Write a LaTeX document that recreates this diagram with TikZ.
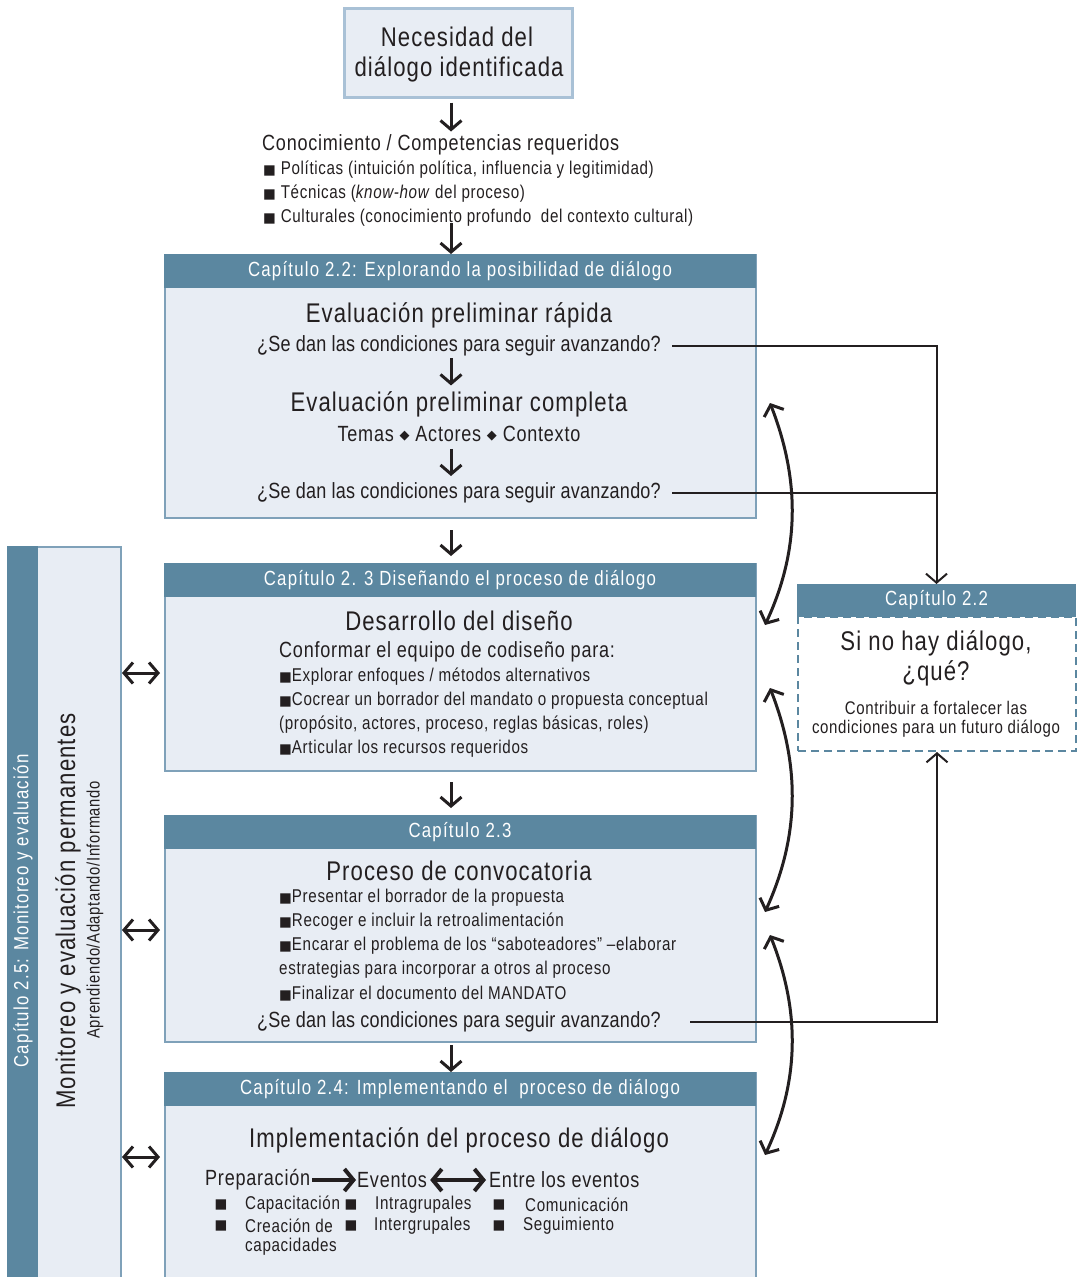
\documentclass[tikz,border=0pt]{standalone}
\usepackage{fontspec}
\setmainfont[FakeStretch=0.82, LetterSpace=3.5]{Liberation Sans}
\newfontfamily\fA[FakeStretch=0.82, LetterSpace=1]{Liberation Sans}
\newfontfamily\fC[FakeStretch=0.82, LetterSpace=4]{Liberation Sans}
\newfontfamily\fH[FakeStretch=0.82, LetterSpace=6]{Liberation Sans}
\newfontfamily\symf{DejaVu Sans}
\usetikzlibrary{arrows.meta}
\definecolor{hdr}{HTML}{5B87A0}
\definecolor{pale}{HTML}{E8EDF4}
\definecolor{edge}{HTML}{7FA1B9}
\definecolor{topedge}{HTML}{A9C1D6}
\definecolor{ink}{HTML}{231F20}
\newcommand{\fsz}[1]{\fontsize{#1}{#1}\selectfont}
\newcommand{\blt}{{\symf\fontsize{13.5}{13.5}\selectfont ■}}
\newcommand{\dia}{{\symf\fontsize{13}{13}\selectfont\raisebox{2pt}{◆}}}
\tikzset{
  every node/.style={text=ink, inner sep=0pt},
  body/.style={draw=edge, line width=2pt, fill=pale, anchor=north west},
  head/.style={fill=hdr, draw=hdr, line width=1pt, text=white, anchor=north west, font=\fH\fsz{20.5}},
  big/.style={font=\fC\fsz{27}},
  mid/.style={font=\fsz{22}},
  ask/.style={font=\fA\fsz{22}},
  sml/.style={font=\fsz{18.5}},
  arr/.style={draw=ink, line width=3pt, -{Straight Barb[length=9pt,width=21pt]}},
  darr/.style={draw=ink, line width=3pt, {Straight Barb[length=9pt,width=21pt]}-{Straight Barb[length=9pt,width=21pt]}},
  conn/.style={draw=ink, line width=2pt},
  tipc/.style={draw=ink, line width=2pt, -{Straight Barb[length=9pt,width=21pt]}},
  bend2/.style={draw=ink, line width=3pt, {Straight Barb[length=9pt,width=21pt]}-{Straight Barb[length=9pt,width=21pt]}}
}
\begin{document}
\begin{tikzpicture}[x=1pt, y=-1pt]
\useasboundingbox (0,0) rectangle (1086,1277);

% ---- starting box
\node[draw=topedge, line width=2.5pt, fill=pale, anchor=north west,
      minimum width=228pt, minimum height=89pt] (need) at (343,7) {};
\node[big] (need1) at (457,37) {Necesidad del};
\node[big] (need2) at (459,69) {diálogo identificada};

% ---- required knowledge
\node[mid, anchor=west] (know) at (262,145) {Conocimiento / Competencias requeridos};
\node[sml, anchor=west] (k1) at (263,170) {\blt\ Políticas (intuición política, influencia y legitimidad)};
\node[sml, anchor=west] (k2) at (263,194) {\blt\ Técnicas (\textit{know-how} del proceso)};
\node[sml, anchor=west] (k3) at (263,218) {\blt\ Culturales (conocimiento profundo\ \ del contexto cultural)};

% ---- chapter 2.2 box
\node[body, minimum width=591pt, minimum height=263pt] (b1) at (164,254) {};
\node[head, minimum width=591pt, minimum height=33pt] (h1) at (164,254) {Capítulo 2.2: Explorando la posibilidad de diálogo};
\node[big] (e1) at (459,315) {Evaluación preliminar rápida};
\node[ask] (q1) at (459,346) {¿Se dan las condiciones para seguir avanzando?};
\node[big] (e2) at (459,404) {Evaluación preliminar completa};
\node[mid] (tac) at (459,434) {Temas \dia\ Actores \dia\ Contexto};
\node[ask] (q2) at (459,493) {¿Se dan las condiciones para seguir avanzando?};

% ---- chapter 2.3 design box
\node[body, minimum width=591pt, minimum height=207pt] (b2) at (164,563) {};
\node[head, minimum width=591pt, minimum height=33pt] (h2) at (164,563) {Capítulo 2. 3 Diseñando el proceso de diálogo};
\node[big] (d1) at (459,621) {Desarrollo del diseño};
\node[mid, anchor=west] (d2) at (279,652) {Conformar el equipo de codiseño para:};
\node[sml, anchor=west] (d3) at (279,677) {\blt Explorar enfoques / métodos alternativos};
\node[sml, anchor=west] (d4) at (279,701) {\blt Cocrear un borrador del mandato o propuesta conceptual};
\node[sml, anchor=west] (d5) at (279,725) {(propósito, actores, proceso, reglas básicas, roles)};
\node[sml, anchor=west] (d6) at (279,749) {\blt Articular los recursos requeridos};

% ---- chapter 2.3 convening box
\node[body, minimum width=591pt, minimum height=226pt] (b3) at (164,815) {};
\node[head, minimum width=591pt, minimum height=33pt] (h3) at (164,815) {Capítulo 2.3};
\node[big] (c1) at (459,871) {Proceso de convocatoria};
\node[sml, anchor=west] (c2) at (279,898) {\blt Presentar el borrador de la propuesta};
\node[sml, anchor=west] (c3) at (279,922) {\blt Recoger e incluir la retroalimentación};
\node[sml, anchor=west] (c4) at (279,946) {\blt Encarar el problema de los “saboteadores” –elaborar};
\node[sml, anchor=west] (c5) at (279,970) {estrategias para incorporar a otros al proceso};
\node[sml, anchor=west] (c6) at (279,994) {\blt Finalizar el documento del MANDATO};
\node[ask] (q3) at (459,1022) {¿Se dan las condiciones para seguir avanzando?};

% ---- chapter 2.4 box
\node[body, minimum width=591pt, minimum height=215pt] (b4) at (164,1072) {};
\node[head, minimum width=591pt, minimum height=33pt] (h4) at (164,1072) {Capítulo 2.4: Implementando el\ \ proceso de diálogo};
\node[big] (i1) at (459,1140) {Implementación del proceso de diálogo};
\node[mid, anchor=west] (prep) at (205,1180) {Preparación};
\node[mid, anchor=west] (ev) at (357,1180) {Eventos};
\node[mid, anchor=west] (entre) at (489,1180) {Entre los eventos};
\draw[draw=ink, line width=4pt, -{Straight Barb[length=9pt,width=22pt]}] (prep.east) ++(2,0) -- ([xshift=-1pt]ev.west);
\draw[draw=ink, line width=4pt, {Straight Barb[length=9pt,width=22pt]}-{Straight Barb[length=9pt,width=22pt]}] (ev.east) ++(3,0) -- ([xshift=-3pt]entre.west);
\node[sml] (s1) at (221,1205) {\blt};
\node[sml] (s2) at (221,1226) {\blt};
\node[sml] (s3) at (351,1205) {\blt};
\node[sml] (s4) at (351,1226) {\blt};
\node[sml] (s5) at (499,1205) {\blt};
\node[sml] (s6) at (499,1226) {\blt};
\node[sml, anchor=west] (p1) at (245,1205) {Capacitación};
\node[sml, anchor=west] (p2) at (245,1226) {Creación de};
\node[sml, anchor=west] (p3) at (245,1247) {capacidades};
\node[sml, anchor=west] (v1) at (375,1205) {Intragrupales};
\node[sml, anchor=west] (v2) at (374,1226) {Intergrupales};
\node[sml, anchor=west] (n1) at (525,1205) {Comunicación};
\node[sml, anchor=west] (n2) at (523,1226) {Seguimiento};

% ---- right box: if there is no dialogue
\node[draw=hdr, dashed, dash pattern=on 8pt off 5pt, line width=2pt, fill=white, anchor=north west,
      minimum width=278pt, minimum height=134pt] (rb) at (797,616) {};
\node[head, minimum width=278pt, minimum height=32pt] (rh) at (797,584) {Capítulo 2.2};
\node[big] (r1) at (936,643) {Si no hay diálogo,};
\node[big] (r2) at (936,673) {¿qué?};
\node[font=\fsz{18.3}] (r3) at (936,708) {Contribuir a fortalecer las};
\node[font=\fsz{18.3}] (r4) at (936,729) {condiciones para un futuro diálogo};

% ---- left column: monitoring and evaluation
\node[body, minimum width=113pt, minimum height=740pt] (mon) at (7,546) {};
\node[fill=hdr, anchor=north west, minimum width=31pt, minimum height=740pt] (monh) at (7,546) {};
\node[rotate=90, text=white, font=\fH\fsz{20.5}] (m1) at (23,911) {Capítulo 2.5: Monitoreo y evaluación};
\node[rotate=90, big] (m2) at (68,911) {Monitoreo y evaluación permanentes};
\node[rotate=90, font=\fsz{18}] (m3) at (95,910) {Aprendiendo/Adaptando/Informando};

% ---- vertical flow arrows
\coordinate (ax) at (451,0);
\draw[arr] (need.south -| ax) ++(0,4) -- ++(0,29);
\draw[arr] (k3.south -| ax) ++(0,-4) -- (h1.north -| ax);
\draw[arr] (q1.south -| ax) ++(0,2) -- ++(0,27);
\draw[arr] (tac.south -| ax) ++(0,7) -- ++(0,27);
\draw[arr] (b1.south -| ax) ++(0,11) -- ++(0,26);
\draw[arr] (b2.south -| ax) ++(0,10) -- ++(0,26);
\draw[arr] (b3.south -| ax) ++(0,2) -- (h4.north -| ax);

% ---- connectors to the right box
\draw[tipc] ([xshift=11pt]q1.east) -| (rh.north);
\draw[conn] ([xshift=11pt]q2.east) -- (q2.east -| rh.north);
\draw[tipc] ([xshift=29pt]q3.east) -| (rb.south);

% ---- curved feedback arrows
\coordinate (f1a) at (770,403);
\coordinate (f1b) at (765,625);
\coordinate (f2a) at (770,688);
\coordinate (f2b) at (765,912);
\coordinate (f3a) at (770,935);
\coordinate (f3b) at (765,1155);
\draw[bend2] (f1a) .. controls (800,480) and (800,550) .. (f1b);
\draw[bend2] (f2a) .. controls (800,765) and (800,835) .. (f2b);
\draw[bend2] (f3a) .. controls (800,1010) and (800,1080) .. (f3b);

% ---- links between monitoring column and the stages
\coordinate (l1) at (160,673);
\coordinate (l2) at (160,930);
\coordinate (l3) at (160,1157);
\draw[darr] (mon.east |- l1) -- (l1);
\draw[darr] (mon.east |- l2) -- (l2);
\draw[darr] (mon.east |- l3) -- (l3);
\end{tikzpicture}
\end{document}
